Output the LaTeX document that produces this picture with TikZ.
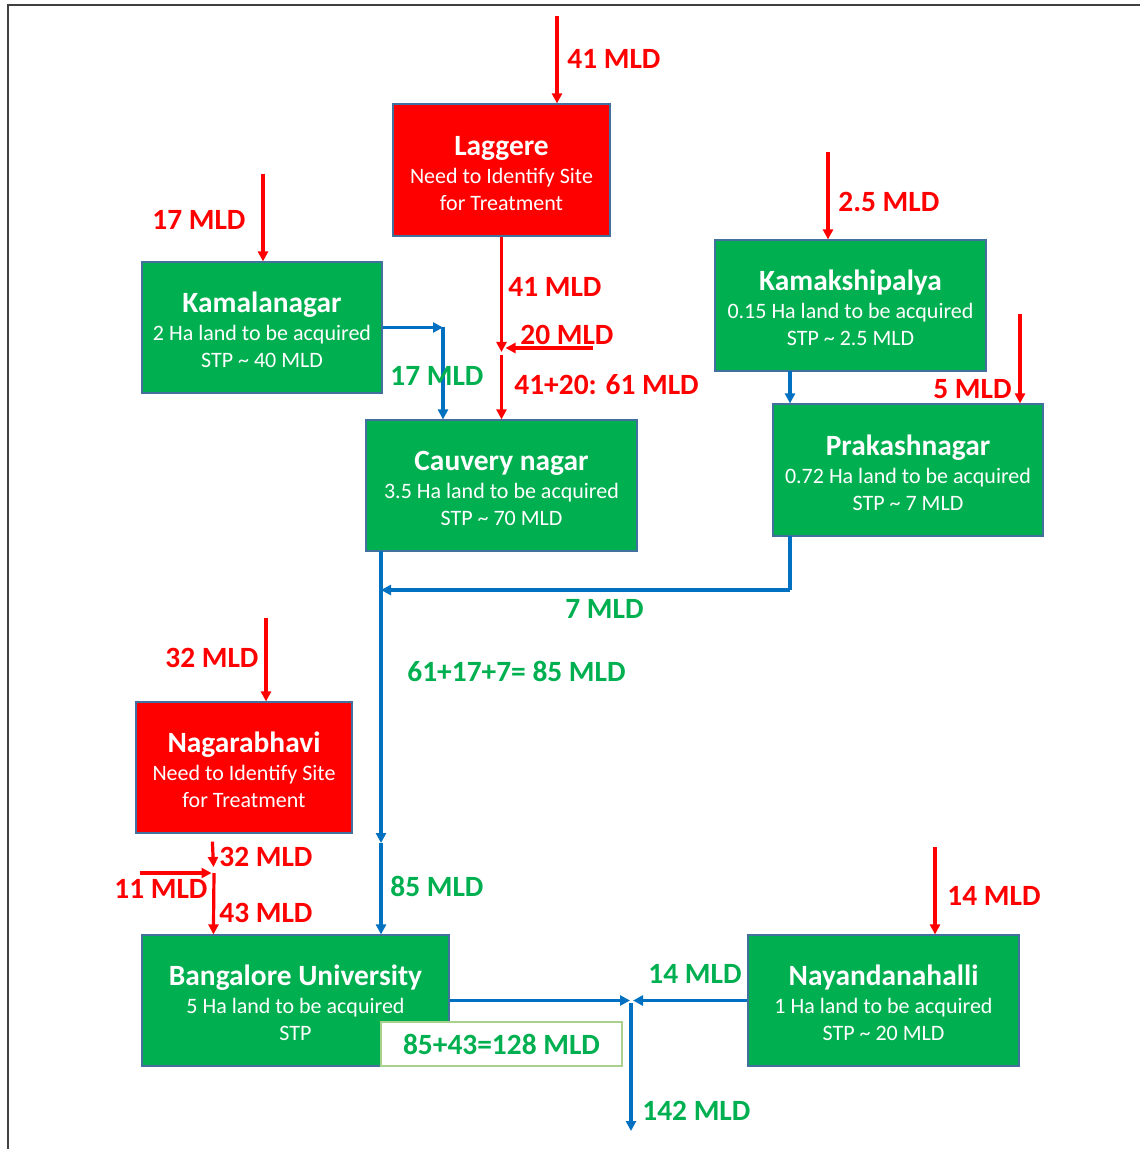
\documentclass[tikz,border=0pt]{standalone}
\usepackage{fontspec}
\setmainfont{Carlito}
\usetikzlibrary{arrows.meta,calc}
\definecolor{gbox}{HTML}{00B050}
\definecolor{rbox}{HTML}{FF0000}
\definecolor{barr}{HTML}{0070C0}
\definecolor{bord}{HTML}{41719C}
\definecolor{glab}{HTML}{00B050}
\definecolor{frm}{HTML}{404040}
\definecolor{lbord}{HTML}{A9D18E}
\newcommand\boxtitle[1]{{\fontsize{14.7}{15}\selectfont\bfseries\rule{0pt}{13pt}#1}\\[0.5pt]}
\tikzset{
  nbox/.style={draw=bord, line width=0.6pt, text=white, align=center,
    font=\fontsize{11}{13.5}\selectfont, inner sep=0pt},
  gnode/.style={nbox, fill=gbox},
  rnode/.style={nbox, fill=rbox},
  lab/.style={font=\fontsize{14.7}{16}\selectfont\bfseries, inner sep=0pt, anchor=west},
  rlab/.style={lab, text=rbox},
  glab/.style={lab, text=glab},
  redarr/.style={draw=rbox, line width=1.6pt, -{Triangle[length=5pt,width=5pt]}},
  bluearr/.style={draw=barr, line width=1.6pt, -{Triangle[length=5pt,width=5pt]}},
  blueline/.style={draw=barr, line width=1.6pt},
}
\begin{document}
\begin{tikzpicture}[x=0.5pt,y=-0.5pt]
\useasboundingbox (0,0) rectangle (1140,1149);
\draw[frm, line width=1pt] (8,1149) -- (8,5) -- (1140,5);

% boxes
\node[rnode, minimum width=108.5pt, minimum height=66pt] (lag) at (501.5,170)
  {\boxtitle{Laggere}Need to Identify Site\\for Treatment};
\node[gnode, minimum width=120pt, minimum height=65.5pt] (kml) at (262,327.5)
  {\boxtitle{Kamalanagar}2 Ha land to be acquired\\STP \textasciitilde{} 40 MLD};
\node[gnode, minimum width=135.5pt, minimum height=65.5pt] (kmk) at (850.5,305.5)
  {\boxtitle{Kamakshipalya}0.15 Ha land to be acquired\\STP \textasciitilde{} 2.5 MLD};
\node[gnode, minimum width=135.5pt, minimum height=65.5pt] (cau) at (501.5,485.5)
  {\boxtitle{Cauvery nagar}3.5 Ha land to be acquired\\STP \textasciitilde{} 70 MLD};
\node[gnode, minimum width=135pt, minimum height=66pt] (prk) at (908,470)
  {\boxtitle{Prakashnagar}0.72 Ha land to be acquired\\STP \textasciitilde{} 7 MLD};
\node[rnode, minimum width=108pt, minimum height=65.5pt] (nag) at (244,767.5)
  {\boxtitle{Nagarabhavi}Need to Identify Site\\for Treatment};
\node[gnode, minimum width=153.5pt, minimum height=65.5pt] (bu) at (295.5,1000.5)
  {\boxtitle{Bangalore University}5 Ha land to be acquired\\STP};
\node[gnode, minimum width=135.5pt, minimum height=65.5pt] (nay) at (883.5,1000.5)
  {\boxtitle{Nayandanahalli}1 Ha land to be acquired\\STP \textasciitilde{} 20 MLD};
\node[draw=lbord, line width=0.8pt, fill=white, minimum width=120.5pt, minimum height=22pt,
  inner sep=0pt, text=glab, font=\fontsize{14.7}{16}\selectfont\bfseries] (sum) at (501.5,1044)
  {85+43=128 MLD};

% coordinates
\coordinate (s41) at (557,16);
\coordinate (s17) at (263,174);
\coordinate (s25) at (828,152);
\coordinate (s20) at (593,348);
\coordinate (j1) at (501.5,351);
\coordinate (k1) at (443,327.5);
\coordinate (s5) at (1020,314);
\coordinate (p1) at (790,590);
\coordinate (cb) at (381,551);
\coordinate (c1) at (381,843);
\coordinate (s32) at (266,618);
\coordinate (j2) at (213.5,871);
\coordinate (s11) at (140,873);
\coordinate (j3) at (631,1000.5);
\coordinate (out) at (631,1131);
\coordinate (s14) at (935,847);
\coordinate (kb) at (790,371);
\coordinate (pb) at (790,536);

% red inflows
\draw[redarr] (s41) -- (s41 |- lag.north);
\draw[redarr] (s17) -- (s17 |- kml.north);
\draw[redarr] (s25) -- (s25 |- kmk.north);
\draw[redarr] (s5) -- (s5 |- prk.north);
\draw[redarr] (s32) -- (s32 |- nag.north);
\draw[redarr] (s14) -- (s14 |- nay.north);

% Laggere junction
\draw[redarr] (lag.south) -- ($(j1)+(0,1)$);
\draw[redarr] (s20) -- ($(j1)+(4,-3)$);
\draw[redarr] ($(j1)+(0,4)$) -- (cau.north);

% Kamalanagar to Cauvery
\draw[bluearr] (kml.east) -- (k1);
\draw[bluearr] (k1) -- (k1 |- cau.north);

% Kamakshipalya to Prakashnagar
\draw[bluearr] (kb) -- (kb |- prk.north);

% Prakashnagar to Cauvery line
\draw[blueline] (pb) -- (p1);
\draw[bluearr] (p1) -- (cb |- p1);

% Cauvery to Bangalore
\draw[bluearr] (cb) -- (c1);
\draw[bluearr] (c1) -- (c1 |- bu.north);

% Nagarabhavi junction
\draw[redarr] ($(nag.south west)+(77,8)$) -- ($(j2)+(0,-4)$);
\draw[redarr] (s11) -- ($(j2)+(-2,2)$);
\draw[redarr] ($(j2)+(0.5,2)$) -- ($(bu.north west)+(72,0)$);

% outflows
\draw[bluearr] (bu.east) -- ($(j3)+(-1,0)$);
\draw[bluearr] (nay.west) -- ($(j3)+(2,0)$);
\draw[bluearr] ($(j3)+(0,2)$) -- (out);

% labels
\node[rlab] at (567,59) {41 MLD};
\node[rlab] at (152,220) {17 MLD};
\node[rlab] at (838,202) {2.5 MLD};
\node[rlab] at (508,287) {41 MLD};
\node[rlab] at (520,335) {20 MLD};
\node[rlab] at (514,385) {41+20: 61 MLD};
\node[glab] at (390,376) {17 MLD};
\node[rlab] at (933,389) {5 MLD};
\node[glab] at (565,609) {7 MLD};
\node[glab] at (407,671) {61+17+7= 85 MLD};
\node[rlab] at (165,658) {32 MLD};
\node[rlab] at (219,857) {32 MLD};
\node[rlab] at (114,889) {11 MLD};
\node[rlab] at (219,913) {43 MLD};
\node[glab] at (390,886) {85 MLD};
\node[glab] at (648,974) {14 MLD};
\node[glab] at (642,1111) {142 MLD};
\node[rlab] at (947,896) {14 MLD};
\end{tikzpicture}
\end{document}
